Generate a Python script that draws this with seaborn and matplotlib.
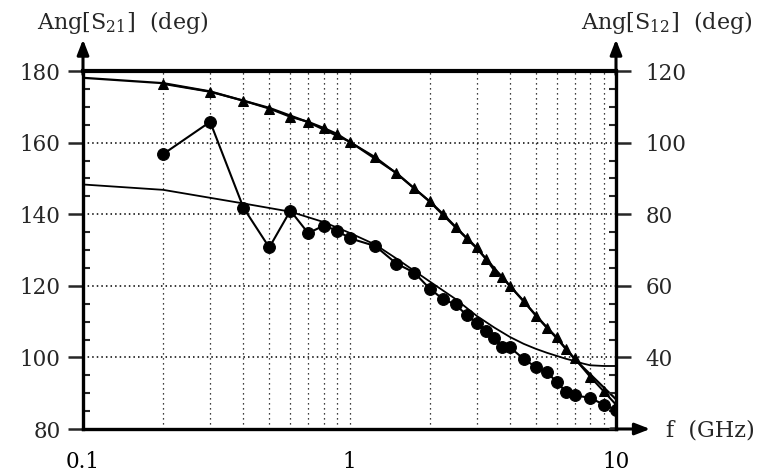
import numpy as np
import pandas as pd
import matplotlib
matplotlib.use("Agg")
import matplotlib.pyplot as plt
from matplotlib.ticker import FixedLocator, FixedFormatter, NullFormatter, MultipleLocator
import seaborn as sns

# ---- data ----
f_s21 = [0.2, 0.3, 0.4, 0.5, 0.6, 0.7, 0.8, 0.9, 1.0, 1.25, 1.5, 1.75, 2.0, 2.25, 2.5,
         2.75, 3.0, 3.25, 3.5, 3.75, 4.0, 4.5, 5.0, 5.5, 6.0, 6.5, 7.0, 8.0, 9.0, 10.0]
ang_s21 = [176.4, 174.2, 171.7, 169.5, 167.2, 165.8, 164.1, 162.4, 160.2, 155.9, 151.4,
           147.2, 143.6, 140.0, 136.5, 133.4, 130.7, 127.5, 124.2, 122.4, 119.9, 115.8,
           111.7, 108.3, 105.6, 102.3, 99.7, 94.6, 90.5, 86.8]

f_s21_model = [0.1, 0.2, 0.3, 0.5, 0.7, 1.0, 1.5, 2.0, 3.0, 4.0, 5.0, 6.0, 7.0, 8.0, 9.0, 10.0]
ang_s21_model = [178.1, 176.6, 174.3, 169.7, 165.7, 160.3, 151.5, 143.5, 130.5, 120.0,
                 111.8, 105.3, 99.5, 95.3, 91.6, 88.3]

f_s12 = [0.2, 0.3, 0.4, 0.5, 0.6, 0.7, 0.8, 0.9, 1.0, 1.25, 1.5, 1.75, 2.0, 2.25, 2.5,
         2.75, 3.0, 3.25, 3.5, 3.75, 4.0, 4.5, 5.0, 5.5, 6.0, 6.5, 7.0, 8.0, 9.0, 10.0]
ang_s12 = [96.8, 105.8, 81.8, 70.7, 81.0, 74.7, 76.8, 75.4, 73.3, 71.1, 66.2, 63.7, 59.2,
           56.2, 54.8, 51.8, 49.6, 47.4, 45.3, 42.9, 42.8, 39.6, 37.3, 36.0, 33.0, 30.4,
           29.4, 28.7, 26.8, 25.3]

f_s12_model = [0.1, 0.2, 0.4, 0.6, 0.8, 1.0, 1.25, 1.5, 2.0, 2.5, 3.0, 3.5, 4.0, 4.5,
               5.0, 5.5, 6.0, 6.5, 7.0, 7.5, 8.0, 9.0, 10.0]
ang_s12_model = [88.3, 86.8, 83.0, 80.7, 77.8, 74.8, 71.5, 67.6, 61.2, 56.3, 51.6, 48.3,
                 45.7, 43.8, 42.4, 41.3, 40.4, 39.6, 39.0, 38.3, 37.8, 37.6, 37.6]

x_ticks = [0.1, 1, 10]
x_tick_labels = ["0.1", "1", "10"]
left_ticks = [80, 100, 120, 140, 160, 180]
right_ticks = [40, 60, 80, 100, 120]

# ---- style ----
sns.set_style("white")
plt.rcParams["font.family"] = ["DejaVu Serif"]
plt.rcParams["mathtext.fontset"] = "dejavuserif"
FS = 15.5

fig = plt.figure(figsize=(7.59, 4.75), dpi=100)
ax = fig.add_axes([83 / 759, 1 - 429 / 475, (616 - 83) / 759, (429 - 71) / 475])
ax2 = ax.twinx()

df21 = pd.DataFrame({"f": f_s21, "ang": ang_s21})
df21m = pd.DataFrame({"f": f_s21_model, "ang": ang_s21_model})
df12 = pd.DataFrame({"f": f_s12, "ang": ang_s12})
df12m = pd.DataFrame({"f": f_s12_model, "ang": ang_s12_model})

sns.lineplot(data=df21m, x="f", y="ang", ax=ax, color="black", lw=1.6, zorder=3)
sns.lineplot(data=df21, x="f", y="ang", ax=ax, color="black", lw=1.5, marker="^",
             markersize=7.5, markeredgecolor="black", markerfacecolor="black", zorder=4)
sns.lineplot(data=df12m, x="f", y="ang", ax=ax2, color="black", lw=1.3, zorder=3)
sns.lineplot(data=df12, x="f", y="ang", ax=ax2, color="black", lw=1.5, marker="o",
             markersize=8.5, markeredgecolor="black", markerfacecolor="black", zorder=4)

ax.set_xscale("log")
ax.set_xlim(0.1, 10)
ax.set_ylim(80, 180)
ax2.set_ylim(20, 120)
for a in (ax, ax2):
    a.set_xlabel("")
    a.set_ylabel("")

# x ticks
ax.xaxis.set_major_locator(FixedLocator(x_ticks))
ax.xaxis.set_major_formatter(FixedFormatter(x_tick_labels))
minor_x = [m * d for d in (0.1, 1) for m in range(2, 10)]
ax.xaxis.set_minor_locator(FixedLocator(minor_x))
ax.xaxis.set_minor_formatter(NullFormatter())
ax.tick_params(axis="x", which="major", direction="inout", length=16, width=2,
               labelsize=FS, pad=8, colors="black")
ax.tick_params(axis="x", which="minor", direction="inout", length=8, width=1.5)

# left y
ax.yaxis.set_major_locator(FixedLocator(left_ticks))
ax.yaxis.set_minor_locator(MultipleLocator(5))
ax.tick_params(axis="y", which="major", direction="out", length=11, width=1.8,
               labelsize=FS, pad=5, left=True)
ax.tick_params(axis="y", which="minor", direction="in", length=5, width=1.5, left=True)

# right y
ax2.yaxis.set_major_locator(FixedLocator(right_ticks))
ax2.yaxis.set_minor_locator(MultipleLocator(5))
ax2.tick_params(axis="y", which="major", direction="out", length=11, width=1.8,
                labelsize=FS, pad=10, right=True)
ax2.tick_params(axis="y", which="minor", direction="in", length=5, width=1.5, right=True)

# grid
ax.grid(False)
ax2.grid(False)
ax.grid(True, which="minor", axis="x", linestyle=(0, (1, 3)), color="black", lw=0.9)
ax.grid(True, which="major", axis="x", linestyle=(0, (1, 3)), color="black", lw=0.9)
for yv in [100, 120, 140, 160]:
    ax.axhline(yv, linestyle=(0, (1, 2)), color="black", lw=1.1, zorder=1)

# spines
for s in ["left", "bottom"]:
    ax.spines[s].set_visible(True)
    ax.spines[s].set_color("black")
    ax.spines[s].set_linewidth(2.4)
ax.spines["top"].set_visible(True)
ax.spines["top"].set_color("black")
ax.spines["top"].set_linewidth(3.0)
ax.spines["right"].set_visible(False)
for s in ["left", "bottom", "top"]:
    ax2.spines[s].set_visible(False)
ax2.spines["right"].set_visible(True)
ax2.spines["right"].set_color("black")
ax2.spines["right"].set_linewidth(2.4)

# arrows on axes
arrow_kw = dict(arrowstyle="-|>,head_length=0.9,head_width=0.35", color="black", lw=2.2,
                shrinkA=0, shrinkB=0)
ax.annotate("", xy=(0, 1.088), xytext=(0, 0.99), xycoords="axes fraction",
            textcoords="axes fraction", arrowprops=arrow_kw, annotation_clip=False)
ax.annotate("", xy=(1, 1.088), xytext=(1, 0.99), xycoords="axes fraction",
            textcoords="axes fraction", arrowprops=arrow_kw, annotation_clip=False)
ax.annotate("", xy=(1.064, 0), xytext=(0.99, 0), xycoords="axes fraction",
            textcoords="axes fraction", arrowprops=arrow_kw, annotation_clip=False)

# labels
fig.text(37 / 759, 1 - 29 / 475, r"Ang[S$_{21}$]  (deg)", fontsize=FS + 0.5, ha="left",
         va="baseline")
fig.text(752 / 759, 1 - 29 / 475, r"Ang[S$_{12}$]  (deg)", fontsize=FS + 0.5, ha="right",
         va="baseline")
fig.text(755 / 759, 1 - 436 / 475, "f  (GHz)", fontsize=FS + 0.5, ha="right",
         va="baseline")

fig.savefig("out.png", dpi=100)
